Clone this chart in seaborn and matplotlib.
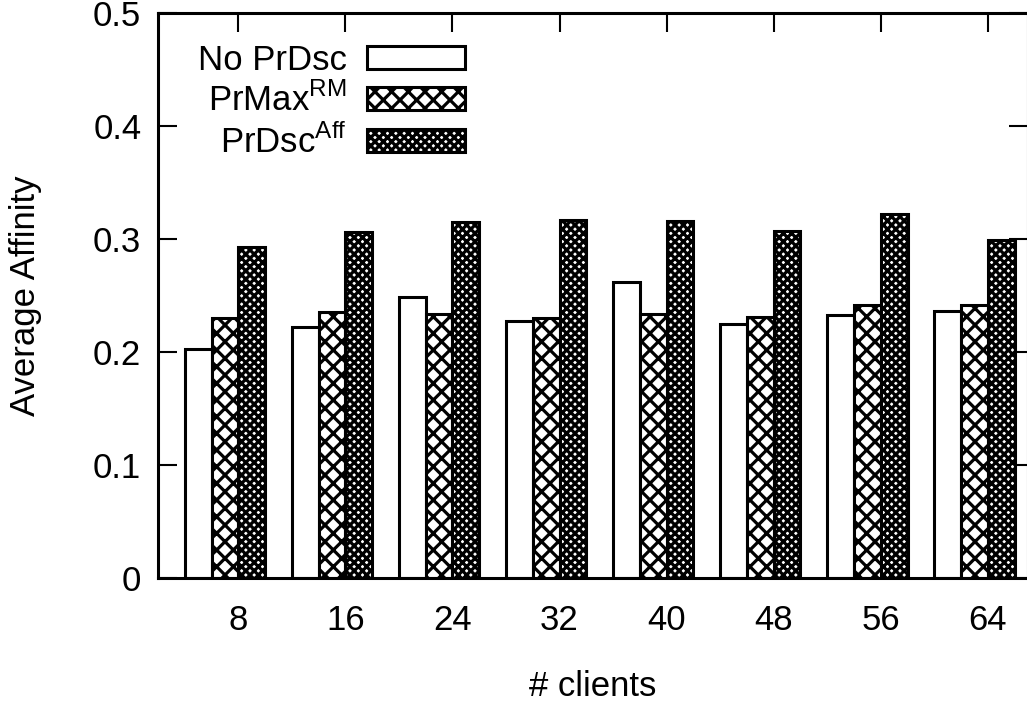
import pandas as pd
import seaborn as sns
import matplotlib.pyplot as plt

# data
clients = [8, 16, 24, 32, 40, 48, 56, 64]
no_prdsc = [0.203, 0.222, 0.249, 0.227, 0.262, 0.225, 0.233, 0.236]
prmax_rm = [0.230, 0.235, 0.234, 0.230, 0.234, 0.231, 0.242, 0.242]
prdsc_aff = [0.293, 0.306, 0.315, 0.317, 0.316, 0.307, 0.322, 0.299]
series = ['No PrDsc', r'PrMax$^{\mathrm{RM}}$', r'PrDsc$^{\mathrm{Aff}}$']
hatches = ['', 'xx', 'xxxx']
y_ticks = [0, 0.1, 0.2, 0.3, 0.4, 0.5]
y_labels = ['0', '0.1', '0.2', '0.3', '0.4', '0.5']

df = pd.DataFrame({
    'clients': clients * 3,
    'affinity': no_prdsc + prmax_rm + prdsc_aff,
    'method': [series[0]] * 8 + [series[1]] * 8 + [series[2]] * 8,
})

sns.set_style('ticks', rc={'text.color': 'black', 'axes.labelcolor': 'black',
                           'xtick.color': 'black', 'ytick.color': 'black',
                           'axes.edgecolor': 'black'})
plt.rcParams['font.family'] = ['Liberation Sans', 'DejaVu Sans']
plt.rcParams['mathtext.fontset'] = 'custom'
plt.rcParams['mathtext.rm'] = 'Liberation Sans'
plt.rcParams['hatch.linewidth'] = 2.3
plt.rcParams['hatch.color'] = 'black'

fs = 25

fig = plt.figure(figsize=(10.27, 7.02), dpi=100)
ax = fig.add_axes([158 / 1027, 124 / 702, 870 / 1027, 565 / 702])

sns.barplot(data=df, x='clients', y='affinity', hue='method', hue_order=series,
            palette=['white'] * 3, edgecolor='black', linewidth=2.2,
            width=0.75, gap=0, saturation=1, legend=False, ax=ax)

for cont, h in zip(ax.containers, hatches):
    for p in cont.patches:
        p.set_hatch(h)
        p.set_facecolor('white')
        p.set_edgecolor('black')

ax.set_xlim(-0.625, 7.5)
ax.set_ylim(0, 0.5)
ax.set_xticks([i + 0.125 for i in range(len(clients))])
ax.set_xticklabels([str(c) for c in clients])
ax.set_yticks(y_ticks)
ax.set_yticklabels(y_labels)

ax.tick_params(axis='both', direction='in', length=13.5, width=1.5,
               labelsize=fs, top=True, right=True)
ax.tick_params(axis='x', pad=19)
ax.tick_params(axis='y', pad=12)
for s in ax.spines.values():
    s.set_linewidth(2.2)

ax.set_xlabel('# clients', fontsize=fs)
ax.set_ylabel('Average Affinity', fontsize=fs)
ax.xaxis.set_label_coords(0.5, -0.163)
ax.yaxis.set_label_coords(-0.133, 0.5)

ax.legend(ax.containers, series, loc='upper right', bbox_to_anchor=(0.353, 0.946),
          frameon=False, fontsize=fs, markerfirst=False, handlelength=2.82,
          handleheight=0.63, handletextpad=0.58, labelspacing=0.17, borderpad=0,
          borderaxespad=0)

plt.savefig('out.png', dpi=100)
